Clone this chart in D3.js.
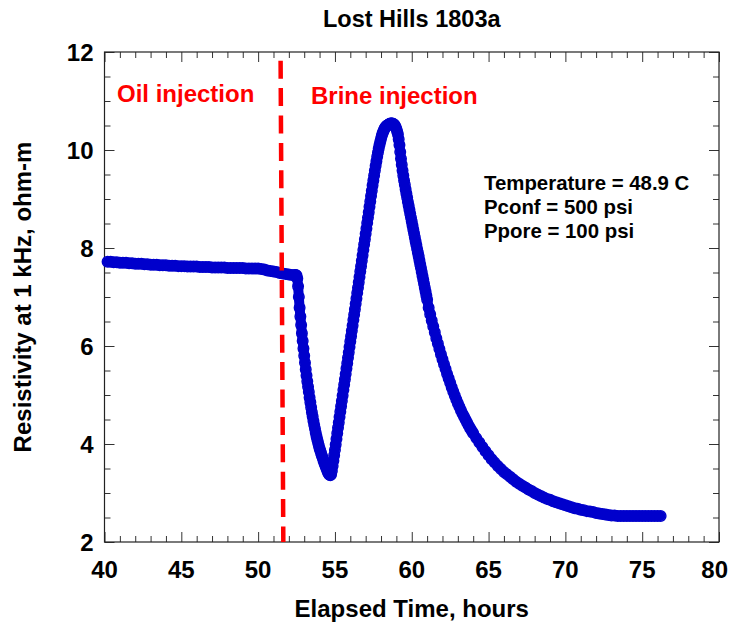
<!DOCTYPE html>
<html>
<head>
<meta charset="utf-8">
<script src="https://cdn.jsdelivr.net/npm/d3@7"></script>
<style>
  body { margin: 0; background: #fff; }
  text { font-family: "Liberation Sans", Arial, sans-serif; font-weight: bold; }
</style>
</head>
<body>
<div id="chart"></div>
<script>
// Data: [elapsed hours, resistivity ohm-m]
const oilPhase = [
  [40.2,7.72],[40.4,7.72],[40.6,7.71],[40.8,7.71],[41.0,7.70],[41.2,7.70],[41.4,7.70],[41.6,7.69],[41.8,7.69],[42.0,7.68],
  [42.2,7.68],[42.4,7.68],[42.6,7.67],[42.8,7.67],[43.0,7.66],[43.2,7.66],[43.4,7.66],[43.6,7.65],[43.8,7.65],[44.0,7.65],
  [44.2,7.64],[44.4,7.64],[44.6,7.64],[44.8,7.63],[45.0,7.63],[45.2,7.63],[45.4,7.62],[45.6,7.62],[45.8,7.62],[46.0,7.62],
  [46.2,7.61],[46.4,7.61],[46.6,7.61],[46.8,7.61],[47.0,7.60],[47.2,7.60],[47.4,7.60],[47.6,7.60],[47.8,7.60],[48.0,7.59],
  [48.2,7.59],[48.4,7.59],[48.6,7.59],[48.8,7.59],[49.0,7.59],[49.2,7.58],[49.4,7.58],[49.6,7.58],[49.8,7.58],[50.0,7.58],
  [50.2,7.57],[50.4,7.56],[50.6,7.54],[50.8,7.53],[51.0,7.52],[51.2,7.51],[51.4,7.49],[51.6,7.48],[51.8,7.47],[52.0,7.46],
  [52.2,7.45],[52.4,7.45]
];

const brineDrop = [
  [52.45,7.45],[52.50,7.44],[52.55,7.38],[52.60,7.22],[52.65,7.00],[52.70,6.78],[52.75,6.60],[52.80,6.43],[52.85,6.26],[52.90,6.10],
  [52.95,5.95],[53.00,5.80],[53.05,5.66],[53.10,5.52],[53.15,5.40],[53.20,5.28],[53.25,5.17],[53.30,5.06],[53.35,4.95],[53.40,4.85],
  [53.45,4.75],[53.50,4.65],[53.55,4.56],[53.60,4.47],[53.65,4.39],[53.70,4.31],[53.75,4.23],[53.80,4.16],[53.85,4.09],[53.90,4.03],
  [53.95,3.97],[54.00,3.91],[54.05,3.86],[54.10,3.81],[54.15,3.76],[54.20,3.72],[54.25,3.67],[54.30,3.62],[54.35,3.58],[54.40,3.54],
  [54.45,3.50],[54.50,3.46],[54.55,3.42],[54.60,3.39],[54.65,3.37],[54.70,3.36]
];

const brineRise = [
  [54.75,3.38],[54.80,3.45],[54.85,3.55],[54.90,3.66],[54.95,3.77],[55.00,3.88],[55.05,3.99],[55.10,4.10],[55.15,4.22],[55.20,4.33],
  [55.25,4.44],[55.30,4.55],[55.35,4.66],[55.40,4.77],[55.45,4.88],[55.50,4.99],[55.55,5.10],[55.60,5.21],[55.65,5.32],[55.70,5.43],
  [55.75,5.54],[55.80,5.65],[55.85,5.76],[55.90,5.87],[55.95,5.98],[56.00,6.09],[56.05,6.20],[56.10,6.31],[56.15,6.42],[56.20,6.53],
  [56.25,6.64],[56.30,6.75],[56.35,6.86],[56.40,6.97],[56.45,7.08],[56.50,7.19],[56.55,7.30],[56.60,7.41],[56.65,7.52],[56.70,7.63],
  [56.75,7.74],[56.80,7.85],[56.85,7.96],[56.90,8.07],[56.95,8.18],[57.00,8.29],[57.05,8.40],[57.10,8.51],[57.15,8.62],[57.20,8.73],
  [57.25,8.84],[57.30,8.95],[57.35,9.06],[57.40,9.17],[57.45,9.28],[57.50,9.38],[57.55,9.48],[57.60,9.58],[57.65,9.68],[57.70,9.77],
  [57.75,9.86],[57.80,9.95],[57.85,10.03],[57.90,10.10],[57.95,10.17],[58.00,10.23],[58.05,10.29],[58.10,10.34],[58.15,10.38],[58.20,10.42],
  [58.25,10.45],[58.30,10.47],[58.35,10.49],[58.40,10.50],[58.45,10.51],[58.50,10.52],[58.55,10.53],[58.60,10.54],[58.65,10.54],[58.70,10.54],
  [58.75,10.54],[58.80,10.53],[58.85,10.52],[58.90,10.50],[58.95,10.47],[59.00,10.43]
];

const brineDecay = [
  [59.05,10.38],[59.10,10.32],[59.15,10.22],[59.20,10.10],[59.25,9.96],[59.30,9.82],[59.35,9.70],[59.40,9.58],[59.45,9.48],[59.50,9.38],
  [59.55,9.29],[59.60,9.20],[59.65,9.11],[59.70,9.03],[59.75,8.94],[59.80,8.86],[59.85,8.78],[59.90,8.70],[59.95,8.62],[60.00,8.54],
  [60.05,8.46],[60.10,8.38],[60.15,8.30],[60.20,8.22],[60.25,8.14],[60.30,8.06],[60.35,7.98],[60.40,7.91],[60.45,7.83],[60.50,7.75],
  [60.55,7.67],[60.60,7.59],[60.65,7.51],[60.70,7.43],[60.75,7.35],[60.80,7.27],[60.85,7.19],[60.90,7.11],[60.95,7.03],[61.00,6.95],
  [61.1,6.78],[61.2,6.65],[61.3,6.52],[61.4,6.40],[61.5,6.28],[61.6,6.16],[61.7,6.05],[61.8,5.94],[61.9,5.83],[62.0,5.73],
  [62.1,5.63],[62.2,5.53],[62.3,5.43],[62.4,5.34],[62.5,5.25],[62.6,5.16],[62.7,5.07],[62.8,4.99],[62.9,4.91],[63.0,4.83],
  [63.1,4.76],[63.2,4.69],[63.3,4.62],[63.4,4.56],[63.5,4.50],[63.6,4.44],[63.7,4.38],[63.8,4.32],[63.9,4.27],[64.0,4.22],
  [64.2,4.12],[64.4,4.03],[64.6,3.94],[64.8,3.85],[65.0,3.77],[65.2,3.69],[65.4,3.62],[65.6,3.55],[65.8,3.49],[66.0,3.43],
  [66.2,3.38],[66.4,3.33],[66.6,3.28],[66.8,3.23],[67.0,3.19],[67.2,3.15],[67.4,3.11],[67.6,3.07],[67.8,3.04],[68.0,3.00],
  [68.2,2.97],[68.4,2.94],[68.6,2.91],[68.8,2.88],[69.0,2.86],[69.2,2.83],[69.4,2.81],[69.6,2.79],[69.8,2.77],[70.0,2.75],
  [70.2,2.73],[70.4,2.71],[70.6,2.69],[70.8,2.68],[71.0,2.66],[71.2,2.65],[71.4,2.63],[71.6,2.62],[71.8,2.61],[72.0,2.59],
  [72.2,2.58],[72.4,2.57],[72.6,2.56],[72.8,2.55],[73.0,2.54],[73.2,2.54],[73.4,2.53],[73.6,2.53],[73.8,2.53],[74.0,2.53],
  [74.2,2.53],[74.4,2.53],[74.6,2.53],[74.8,2.53],[75.0,2.53],[75.2,2.53],[75.4,2.53],[75.6,2.53],[75.8,2.53],[76.0,2.53],
  [76.2,2.53]
];

const xTicks = [40, 45, 50, 55, 60, 65, 70, 75, 80];
const yTicks = [2, 4, 6, 8, 10, 12];
const infoLines = ["Temperature = 48.9 C", "Pconf = 500 psi", "Ppore = 100 psi"];
// injection switch marker (drawn slightly slanted in the original)
const switchTop = [51.46, 12];
const switchBottom = [51.64, 2];

const width = 730, height = 630;
const margin = { top: 52, right: 11, bottom: 88, left: 104.5 };
const innerW = width - margin.left - margin.right;
const innerH = height - margin.top - margin.bottom;
const blue = "#0000cc";

const svg = d3.select("#chart").append("svg")
  .attr("width", width)
  .attr("height", height);

const g = svg.append("g")
  .attr("transform", `translate(${margin.left},${margin.top})`);

const x = d3.scaleLinear().domain([40, 80]).range([0, innerW]);
const y = d3.scaleLinear().domain([2, 12]).range([innerH, 0]);

// inward ticks on all four sides
const xMinor = d3.range(40, 81, 1).filter(d => d % 5 !== 0);
const yMinor = d3.range(2, 12.01, 0.5).filter(d => d % 2 !== 0);

function tickGroup(axisFn, scale, values, size, transform) {
  g.append("g")
    .attr("transform", transform)
    .call(axisFn(scale).tickValues(values).tickSize(size).tickFormat(""))
    .call(a => a.select(".domain").remove())
    .selectAll("line").attr("stroke", "#333").attr("stroke-width", 1);
}
tickGroup(d3.axisTop, x, xTicks, 10, `translate(0,${innerH})`);
tickGroup(d3.axisTop, x, xMinor, 6, `translate(0,${innerH})`);
tickGroup(d3.axisBottom, x, xTicks, 10, "translate(0,0)");
tickGroup(d3.axisBottom, x, xMinor, 6, "translate(0,0)");
tickGroup(d3.axisRight, y, yTicks, 10, "translate(0,0)");
tickGroup(d3.axisRight, y, yMinor, 6, "translate(0,0)");
tickGroup(d3.axisLeft, y, yTicks, 10, `translate(${innerW},0)`);
tickGroup(d3.axisLeft, y, yMinor, 6, `translate(${innerW},0)`);

// frame
g.append("rect")
  .attr("width", innerW)
  .attr("height", innerH)
  .attr("fill", "none")
  .attr("stroke", "#222")
  .attr("stroke-width", 1.2);

// tick labels (last one pulled in so it stays on the page)
g.selectAll(".xlab")
  .data(xTicks)
  .enter().append("text")
  .attr("class", "xlab")
  .attr("x", (d, i) => i === xTicks.length - 1 ? width - margin.left - 2 : x(d))
  .attr("y", innerH + 36)
  .attr("text-anchor", (d, i) => i === xTicks.length - 1 ? "end" : "middle")
  .attr("font-size", "24px")
  .text(d => d);

g.selectAll(".ylab")
  .data(yTicks)
  .enter().append("text")
  .attr("class", "ylab")
  .attr("x", -11)
  .attr("y", d => y(d) + 8.5)
  .attr("text-anchor", "end")
  .attr("font-size", "24px")
  .text(d => d);

// data: densely sampled open circles merge into a solid band
const allPoints = oilPhase.concat(brineDrop, brineRise, brineDecay);
g.append("path")
  .datum(allPoints)
  .attr("d", d3.line().x(d => x(d[0])).y(d => y(d[1])))
  .attr("fill", "none")
  .attr("stroke", blue)
  .attr("stroke-width", 10)
  .attr("stroke-linejoin", "round")
  .attr("stroke-linecap", "round");

g.append("g")
  .selectAll("circle")
  .data(allPoints)
  .enter().append("circle")
  .attr("cx", d => x(d[0]))
  .attr("cy", d => y(d[1]))
  .attr("r", 5.3)
  .attr("fill", "none")
  .attr("stroke", blue)
  .attr("stroke-width", 1.4);

// injection switch line
g.append("line")
  .attr("x1", x(switchTop[0]))
  .attr("y1", y(switchTop[1]))
  .attr("x2", x(switchBottom[0]))
  .attr("y2", y(switchBottom[1]))
  .attr("stroke", "#ff0000")
  .attr("stroke-width", 4.5)
  .attr("stroke-dasharray", "18,9.4")
  .attr("stroke-dashoffset", 18.7);

// annotations
g.append("text")
  .attr("x", 117 - margin.left)
  .attr("y", 102 - margin.top)
  .attr("fill", "#ff0000")
  .attr("font-size", "24px")
  .text("Oil injection");

g.append("text")
  .attr("x", 311 - margin.left)
  .attr("y", 104 - margin.top)
  .attr("fill", "#ff0000")
  .attr("font-size", "24px")
  .text("Brine injection");

g.selectAll(".info")
  .data(infoLines)
  .enter().append("text")
  .attr("class", "info")
  .attr("x", 484 - margin.left)
  .attr("y", (d, i) => 190 - margin.top + i * 24)
  .attr("font-size", "20.4px")
  .text(d => d);

// title and axis titles
svg.append("text")
  .attr("x", margin.left + innerW / 2)
  .attr("y", 27)
  .attr("text-anchor", "middle")
  .attr("font-size", "23.5px")
  .text("Lost Hills 1803a");

svg.append("text")
  .attr("x", margin.left + innerW / 2)
  .attr("y", 617)
  .attr("text-anchor", "middle")
  .attr("font-size", "24px")
  .text("Elapsed Time, hours");

svg.append("text")
  .attr("transform", `translate(31,${margin.top + innerH / 2}) rotate(-90)`)
  .attr("text-anchor", "middle")
  .attr("font-size", "24px")
  .text("Resistivity at 1 kHz, ohm-m");
</script>
</body>
</html>
